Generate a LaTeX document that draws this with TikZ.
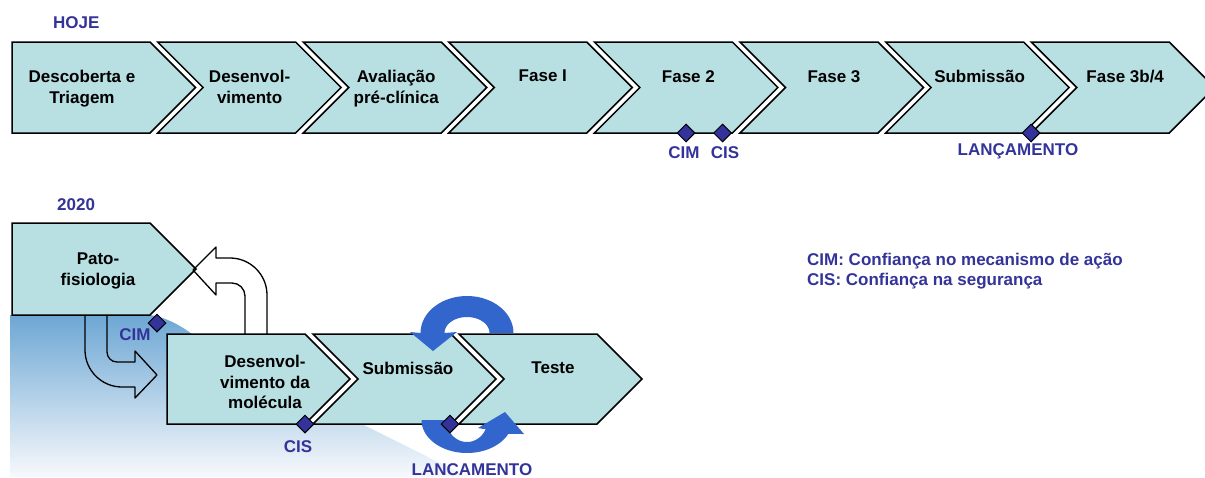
\documentclass[tikz,border=0pt]{standalone}
\usepackage{fontspec}
\setmainfont{Liberation Sans}
\usetikzlibrary{shapes.geometric}

\definecolor{stagefill}{HTML}{B8DFE2}
\definecolor{ink}{HTML}{333399}
\definecolor{loopblue}{HTML}{3366CC}
\definecolor{shadetop}{HTML}{6DA7D4}
\definecolor{shadebot}{HTML}{F7F9FC}

\tikzset{
  stage/.style={draw=black, line width=1.5pt, fill=stagefill, line join=miter},
  lbl/.style={font=\bfseries\fontsize{17}{20.5}\selectfont, align=center, inner sep=0pt, anchor=north},
  milestone/.style={diamond, draw=black, fill=ink, line width=1pt,
    minimum width=18pt, minimum height=18pt, inner sep=0pt},
  tag/.style={font=\bfseries\fontsize{17}{20}\selectfont, text=ink, inner sep=0pt, anchor=base},
  legend/.style={tag, anchor=base west},
  hollow/.style={draw=black, line width=1.3pt, line join=round},
}

\begin{document}
\begin{tikzpicture}[x=1pt, y=-1pt]
\useasboundingbox (0,0) rectangle (1205,477);
\clip (0,0) rectangle (1205,477);

% ---------- current process ----------
\node[legend] (hoje) at (53,28) {HOJE};

\draw[stage] (12,42) -- (150,42) -- (195.5,87.5) -- (150,133) -- (12,133) -- cycle;
\foreach \i in {1,...,7}{
  \pgfmathsetmacro\xa{12+145.6*\i}
  \draw[stage] (\xa,42) -- (\xa+138,42) -- (\xa+183.5,87.5) -- (\xa+138,133)
    -- (\xa,133) -- (\xa+45.5,87.5) -- cycle;
}

\node[lbl] (t1) at (82,70) {Descoberta e\\Triagem};
\node[lbl] (t2) at (157.6+92,70) {Desenvol-\\vimento};
\node[lbl] (t3) at (303.2+93,70) {Avaliação\\pré-clínica};
\node[lbl] (t4) at (448.8+94,70) {Fase I};
\node[lbl] (t5) at (594.4+94,70) {Fase 2};
\node[lbl] (t6) at (740+94,70) {Fase 3};
\node[lbl] (t7) at (885.6+94,70) {Submissão};
\node[lbl] (t8) at (1031.2+94,70) {Fase 3b/4};

\node[milestone] (cimA) at (686,133) {};
\node[milestone] (cisA) at (722.5,133) {};
\node[milestone] (lanA) at (1031,133) {};
\node[tag] (cimAt) at (684,158) {CIM};
\node[tag] (cisAt) at (725,158) {CIS};
\node[tag] (lanAt) at (1018,155) {LANÇAMENTO};

% ---------- future process ----------
\node[legend] (ano) at (57,210) {2020};

% soft blue backdrop
\shade[top color=shadetop, bottom color=shadebot]
  (10,315) -- (150,315) .. controls (165,317) and (180,325) .. (192,334)
  -- (192,424) -- (362,424) -- (468,477) -- (10,477) -- cycle;

\draw[stage] (12,223) -- (150,223) -- (196,269) -- (150,315) -- (12,315) -- cycle;

% hollow arrow down into the molecule stage
\draw[hollow] (85,315) -- (85,350) .. controls (85,370.4) and (101.6,387) .. (122,387)
  -- (135,387) -- (135,398) -- (157,375) -- (135,351) -- (135,362) -- (117,362)
  .. controls (111.5,362) and (107,357.5) .. (107,352) -- (107,315);

% hollow arrow back up to pathophysiology
\draw[hollow] (267,334) -- (267,295) .. controls (267,274.6) and (250.4,258) .. (230,258)
  -- (216,258) -- (216,247) -- (193,270) -- (216,295) -- (216,283) -- (232,283)
  .. controls (239.2,283) and (245,288.8) .. (245,296) -- (245,334);

\draw[stage] (167,334) -- (305,334) -- (350,379) -- (305,424) -- (167,424) -- cycle;
\draw[stage] (313,334) -- (451,334) -- (496,379) -- (451,424) -- (313,424) -- (358,379) -- cycle;
\draw[stage] (459,334) -- (597,334) -- (642,379) -- (597,424) -- (459,424) -- (504,379) -- cycle;

% iteration loop between submission and testing
\fill[loopblue] (489.5,333)
  -- plot[domain=0:180, samples=40, variable=\t] ({467+22.5*cos(\t)},{333-16*sin(\t)})
  -- (457,332) -- (433,351) -- (410,332)
  -- plot[domain=180:0, samples=40, variable=\t] ({467+46.5*cos(\t)},{333-37*sin(\t)})
  -- cycle;
\fill[loopblue] (478,428) -- (505,412) -- (524,434)
  -- plot[domain=25:180, samples=40, variable=\t] ({467+45.5*cos(\t)},{420+33*sin(\t)})
  -- plot[domain=180:25, samples=40, variable=\t] ({467+20.5*cos(\t)},{420+22*sin(\t)})
  -- cycle;

\node[lbl] (b1) at (98,253) {Pato-\\fisiologia};
\node[lbl] (b2) at (265,355) {Desenvol-\\vimento da\\molécula};
\node[lbl] (b3) at (408,362) {Submissão};
\node[lbl] (b4) at (553,362) {Teste};

\node[milestone] (cimB) at (157,323) {};
\node[milestone] (cisB) at (305,424) {};
\node[milestone] (lanB) at (450,424) {};
\node[tag] (cimBt) at (135,340) {CIM};
\node[tag] (cisBt) at (298,452) {CIS};
\node[tag] (lanBt) at (472,475.5) {LANCAMENTO};

% ---------- key ----------
\node[legend] (key1) at (807,265) {CIM: Confiança no mecanismo de ação};
\node[legend] (key2) at (807,285) {CIS: Confiança na segurança};
\end{tikzpicture}
\end{document}
